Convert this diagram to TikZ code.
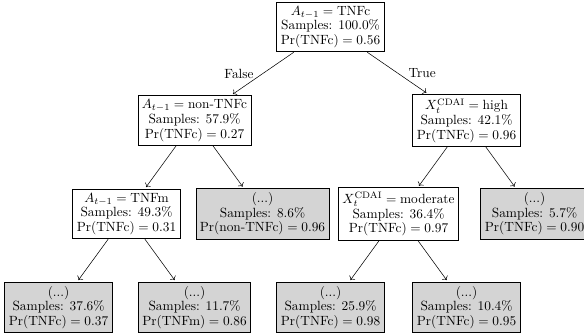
\documentclass[tikz,border=0pt]{standalone}
\usepackage{amsmath}
\usepackage{xcolor}
\definecolor{leafgray}{HTML}{D4D4D4}
\usetikzlibrary{arrows.meta,positioning}

\begin{document}
\begin{tikzpicture}[
  x=51pt, y=70.1pt,
  split/.style={rectangle, draw=black, fill=white, semithick, font=\fontsize{10}{11}\selectfont, align=center, inner sep=3pt},
  leaf/.style={split, fill=leafgray},
  arr/.style={->, shorten >=1.5pt},
  edgelabel/.style={font=\fontsize{10}{11}\selectfont, inner sep=3pt},
]
\useasboundingbox (-43.9pt,20.25pt) rectangle (394.1pt,-231pt);

% level 0 and 1
\node[split] (root) at (4,0) {$A_{t-1} = \text{TNFc}$\\Samples: 100.0\%\\$\Pr(\text{TNFc}) = 0.56$};
\node[split] (nontnfc) at (2,-1) {$A_{t-1} = \text{non-TNFc}$\\Samples: 57.9\%\\$\Pr(\text{TNFc}) = 0.27$};
\node[split] (high) at (6,-1) {$X_t^{\text{CDAI}} = \text{high}$\\Samples: 42.1\%\\$\Pr(\text{TNFc}) = 0.96$};

% level 2
\node[split] (tnfm) at (1,-2) {$A_{t-1} = \text{TNFm}$\\Samples: 49.3\%\\$\Pr(\text{TNFc}) = 0.31$};
\node[leaf] (leafa) at (3,-2) {(...)\\Samples: 8.6\%\\$\Pr(\text{non-TNFc}) = 0.96$};
\node[split] (moderate) at (5,-2) {$X_t^{\text{CDAI}} = \text{moderate}$\\Samples: 36.4\%\\$\Pr(\text{TNFc}) = 0.97$};
\node[leaf] (leafb) at (7,-2) {(...)\\Samples: 5.7\%\\$\Pr(\text{TNFc}) = 0.90$};

% level 3
\node[leaf] (leafc) at (0,-3) {(...)\\Samples: 37.6\%\\$\Pr(\text{TNFc}) = 0.37$};
\node[leaf] (leafd) at (2,-3) {(...)\\Samples: 11.7\%\\$\Pr(\text{TNFm}) = 0.86$};
\node[leaf] (leafe) at (4,-3) {(...)\\Samples: 25.9\%\\$\Pr(\text{TNFc}) = 0.98$};
\node[leaf] (leaff) at (6,-3) {(...)\\Samples: 10.4\%\\$\Pr(\text{TNFc}) = 0.95$};

\draw[arr] (root) -- node[edgelabel, midway, left=3.5pt] {False} (nontnfc);
\draw[arr] (root) -- node[edgelabel, midway, right=5pt] {True} (high);
\draw[arr] (nontnfc) -- (tnfm);
\draw[arr] (nontnfc) -- (leafa);
\draw[arr] (high) -- (moderate);
\draw[arr] (high) -- (leafb);
\draw[arr] (tnfm) -- (leafc);
\draw[arr] (tnfm) -- (leafd);
\draw[arr] (moderate) -- (leafe);
\draw[arr] (moderate) -- (leaff);

\end{tikzpicture}
\end{document}
